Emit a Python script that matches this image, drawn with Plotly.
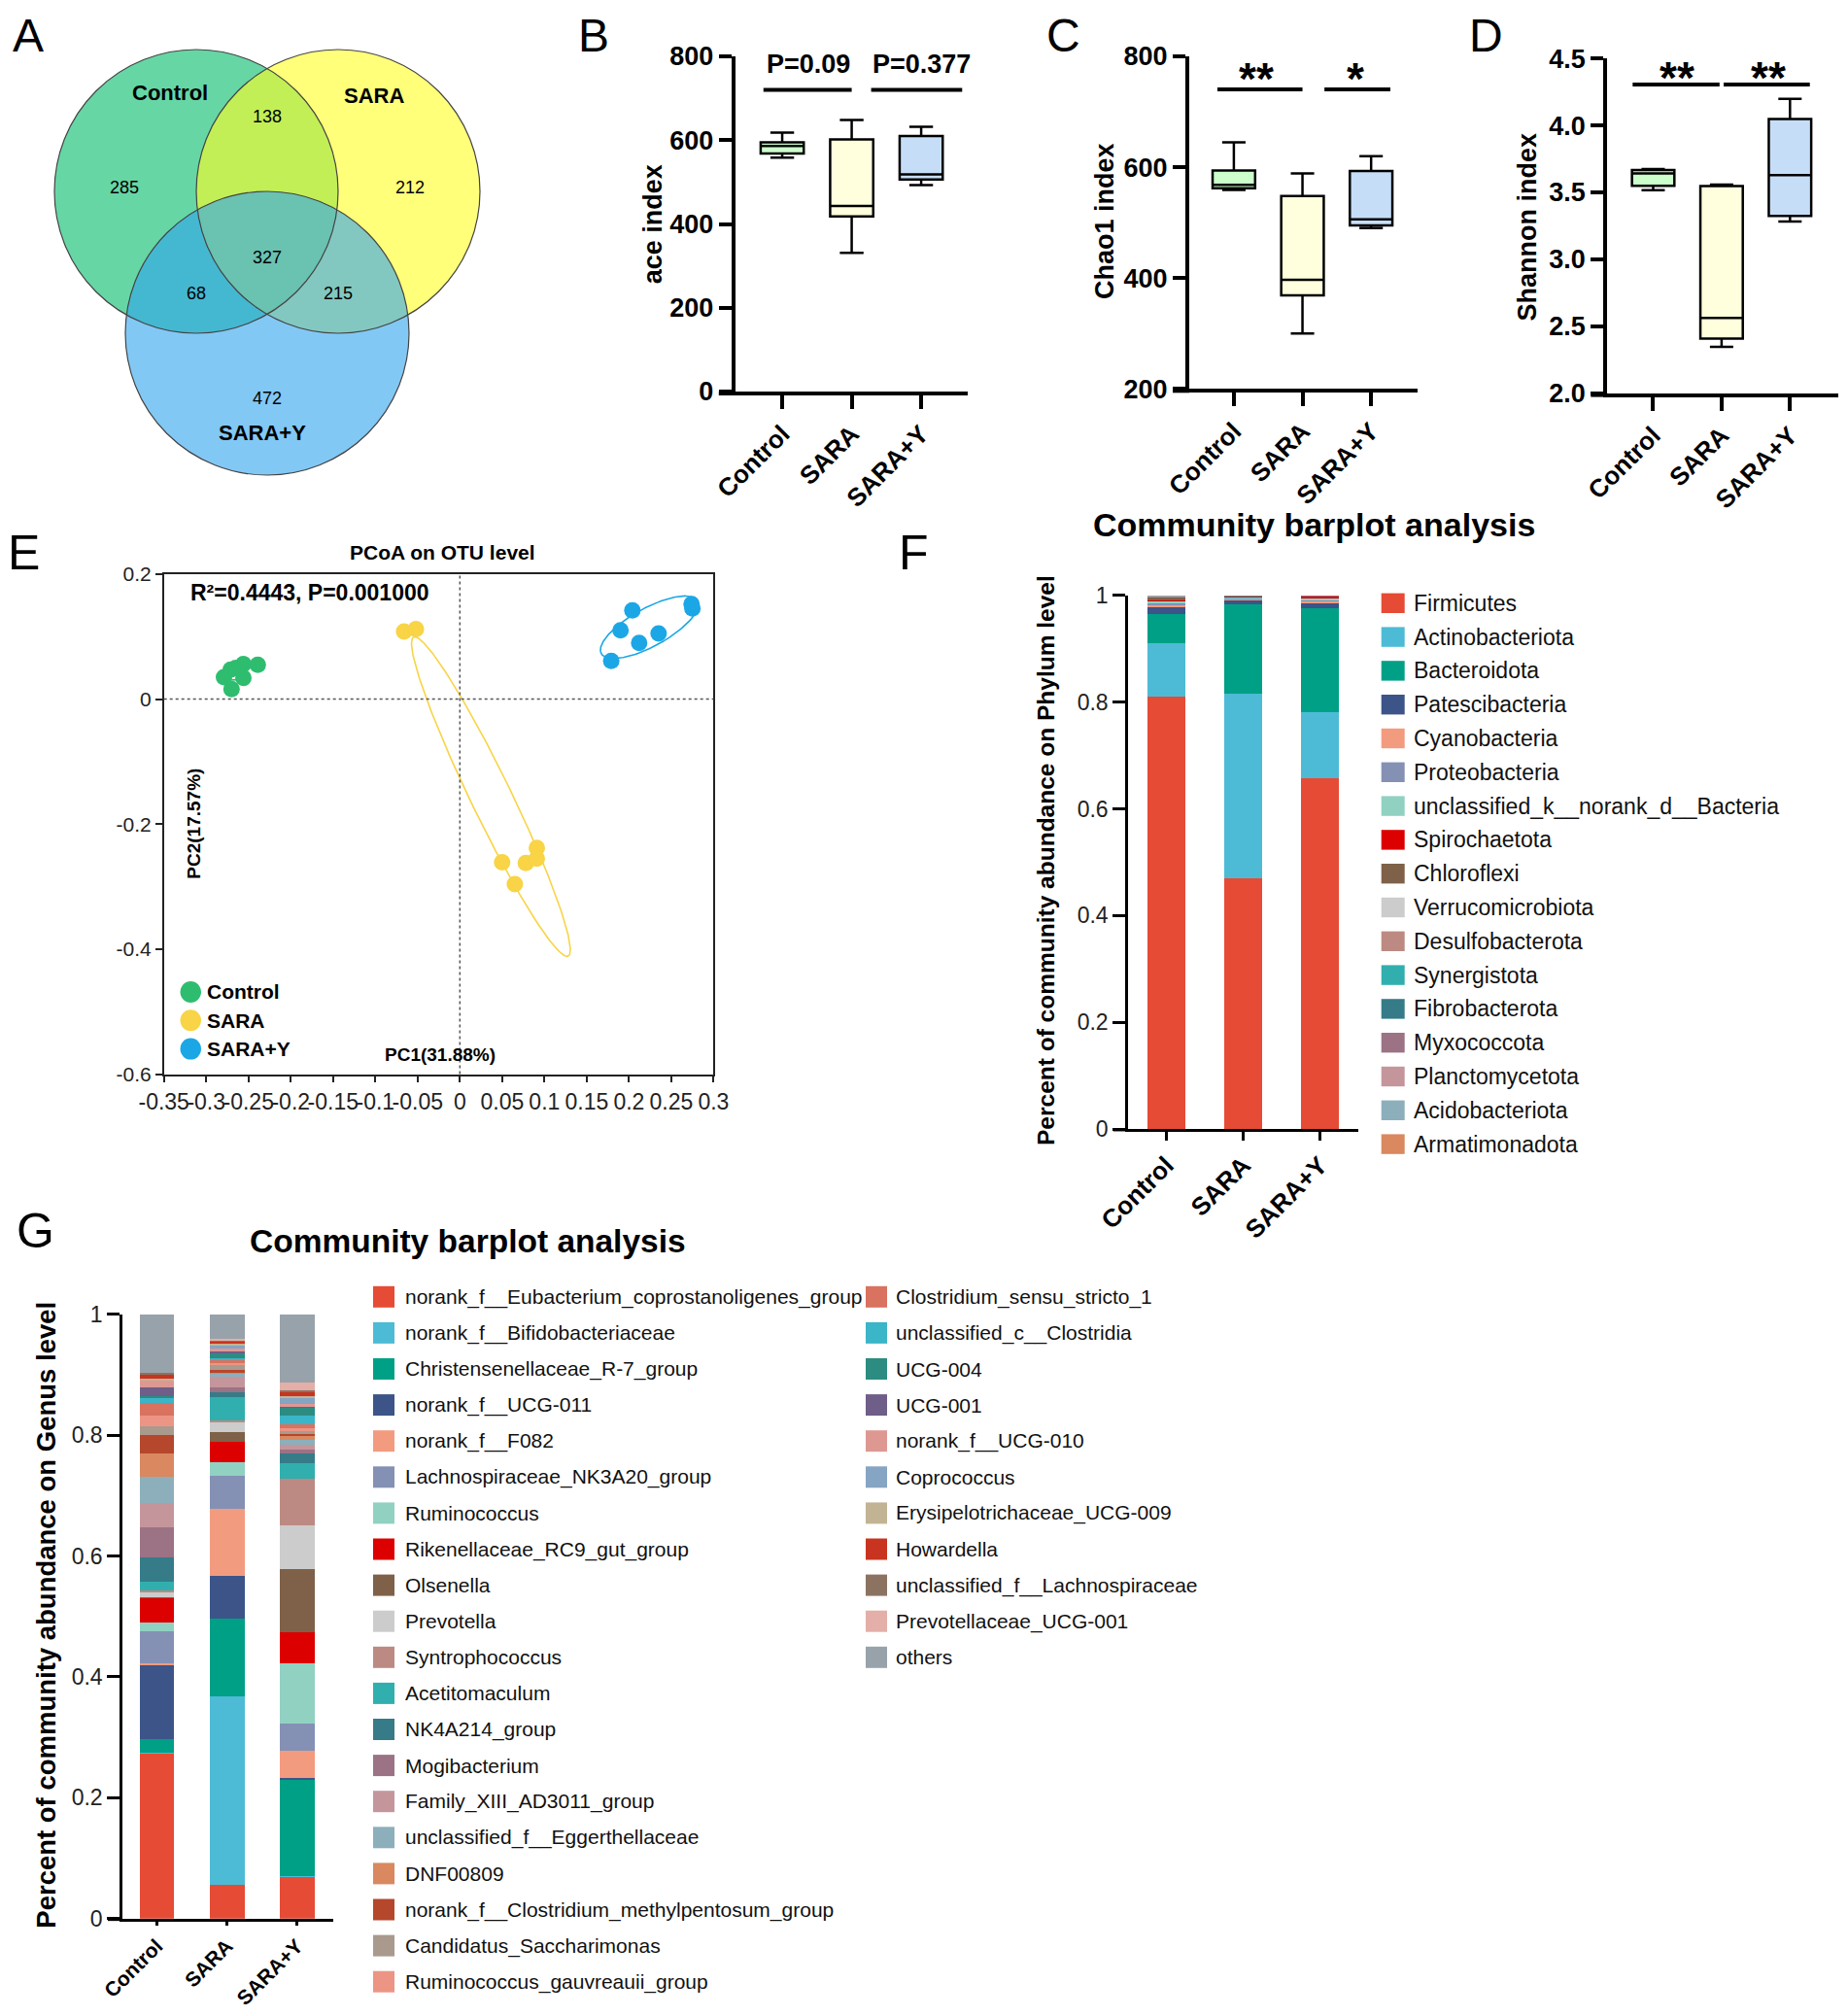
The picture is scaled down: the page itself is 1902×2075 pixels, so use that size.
import numpy as np
import plotly.graph_objects as go

W, H = 1902, 2075          # reference picture size
OFF = 8                    # default page body margin
WF, HF = W - 2 * OFF, H - 2 * OFF   # figure size so that the page fits the window
FONT = "Liberation Sans, Arial, sans-serif"

# ---------------- data ----------------
groups = ["Control", "SARA", "SARA+Y"]

# A: Venn counts
venn_labels = ["Control", "SARA", "SARA+Y"]
venn_only = [285, 212, 472]          # Control only, SARA only, SARA+Y only
venn_ctrl_sara = 138
venn_ctrl_saray = 68
venn_sara_saray = 215
venn_all = 327

# B: ace index
ace_min = [558, 331, 493]
ace_q1 = [568, 418, 506]
ace_med = [586, 443, 518]
ace_q3 = [595, 602, 610]
ace_max = [618, 648, 632]
ace_tests = ["P=0.09", "P=0.377"]

# C: Chao1 index
chao_min = [559, 300, 490]
chao_q1 = [562, 369, 495]
chao_med = [568, 397, 506]
chao_q3 = [594, 548, 593]
chao_max = [645, 589, 620]
chao_tests = ["**", "*"]

# D: Shannon index
sha_min = [3.517, 2.345, 3.282]
sha_q1 = [3.550, 2.407, 3.324]
sha_med = [3.642, 2.562, 3.629]
sha_q3 = [3.667, 3.547, 4.049]
sha_max = [3.674, 3.559, 4.199]
sha_tests = ["**", "**"]

# E: PCoA
pc1_control = [-0.279, -0.271, -0.265, -0.256, -0.239, -0.256, -0.270]
pc2_control = [0.035, 0.047, 0.050, 0.056, 0.055, 0.034, 0.016]
pc1_sara = [-0.066, -0.052, 0.050, 0.065, 0.078, 0.091, 0.091]
pc2_sara = [0.108, 0.112, -0.261, -0.296, -0.262, -0.238, -0.255]
pc1_saray = [0.204, 0.274, 0.275, 0.190, 0.235, 0.212, 0.179]
pc2_saray = [0.142, 0.152, 0.145, 0.110, 0.105, 0.090, 0.061]
e_xticks = [-0.35, -0.3, -0.25, -0.2, -0.15, -0.1, -0.05, 0, 0.05, 0.1, 0.15, 0.2, 0.25, 0.3]
e_xticktext = ["-0.35", "-0.3", "-0.25", "-0.2", "-0.15", "-0.1", "-0.05", "0",
               "0.05", "0.1", "0.15", "0.2", "0.25", "0.3"]
e_yticks = [-0.6, -0.4, -0.2, 0, 0.2]
e_yticktext = ["-0.6", "-0.4", "-0.2", "0", "0.2"]

# F: phylum level
phylum_names = ["Firmicutes", "Actinobacteriota", "Bacteroidota", "Patescibacteria",
                "Cyanobacteria", "Proteobacteria", "unclassified_k__norank_d__Bacteria",
                "Spirochaetota", "Chloroflexi", "Verrucomicrobiota", "Desulfobacterota",
                "Synergistota", "Fibrobacterota", "Myxococcota", "Planctomycetota",
                "Acidobacteriota", "Armatimonadota"]
phylum_control = [0.811, 0.099, 0.0545, 0.013, 0.004, 0.005, 0.0035, 0.0005, 0.0065, 0.001,
                  0.0008, 0.0004, 0.0003, 0.0002, 0.0002, 0.0001, 0.0001]
phylum_sara = [0.469, 0.346, 0.168, 0.007, 0.004, 0.002, 0.002, 0.0003, 0.0003, 0.0005,
               0.0005, 0.0004, 0.0002, 0.0002, 0.0002, 0.0002, 0.0002]
phylum_saray = [0.658, 0.124, 0.1945, 0.009, 0.004, 0.002, 0.002, 0.0055, 0.0003, 0.0002,
                0.0002, 0.0001, 0.0001, 0.0001, 0.0001, 0.0001, 0.0001]

# G: genus level
genus_names = ["norank_f__Eubacterium_coprostanoligenes_group", "norank_f__Bifidobacteriaceae",
               "Christensenellaceae_R-7_group", "norank_f__UCG-011", "norank_f__F082",
               "Lachnospiraceae_NK3A20_group", "Ruminococcus", "Rikenellaceae_RC9_gut_group",
               "Olsenella", "Prevotella", "Syntrophococcus", "Acetitomaculum", "NK4A214_group",
               "Mogibacterium", "Family_XIII_AD3011_group", "unclassified_f__Eggerthellaceae",
               "DNF00809", "norank_f__Clostridium_methylpentosum_group", "Candidatus_Saccharimonas",
               "Ruminococcus_gauvreauii_group", "Clostridium_sensu_stricto_1",
               "unclassified_c__Clostridia", "UCG-004", "UCG-001", "norank_f__UCG-010",
               "Coprococcus", "Erysipelotrichaceae_UCG-009", "Howardella",
               "unclassified_f__Lachnospiraceae", "Prevotellaceae_UCG-001", "others"]
genus_control = [0.274, 0.001, 0.0215, 0.1225, 0.004, 0.053, 0.0145, 0.040, 0.002, 0.008,
                 0.003, 0.0145, 0.040, 0.050, 0.039, 0.044, 0.039, 0.031, 0.013, 0.019,
                 0.020, 0.010, 0.001, 0.015, 0.012, 0.001, 0.001, 0.008, 0.002, 0.000, 0.097]
genus_sara = [0.0556, 0.312, 0.129, 0.070, 0.111, 0.0544, 0.024, 0.0335, 0.0153, 0.018,
              0.001, 0.040, 0.0075, 0.0083, 0.0164, 0.005, 0.004, 0.003, 0.008, 0.004,
              0.006, 0.002, 0.009, 0.002, 0.005, 0.005, 0.004, 0.003, 0.002, 0.002, 0.040]
genus_saray = [0.070, 0.001, 0.1595, 0.002, 0.0455, 0.0455, 0.0995, 0.0516, 0.1034, 0.073,
               0.0775, 0.0245, 0.017, 0.0065, 0.008, 0.008, 0.0075, 0.002, 0.005, 0.004,
               0.0076, 0.0144, 0.013, 0.002, 0.003, 0.0105, 0.0035, 0.0065, 0.0035, 0.0118, 0.1132]

# ---------------- styles ----------------
palette = ["#E64B35", "#4DBBD5", "#00A087", "#3C5488", "#F39B7F", "#8491B4", "#91D1C2",
           "#DC0000", "#7E6148", "#CCCCCC", "#BC8A82", "#30AFAE", "#357B88", "#9C7285",
           "#C4969B", "#8CAFBB", "#D98860", "#B5472C", "#A99A8D", "#EC9585", "#D9725F",
           "#3BB5C8", "#2C8C81", "#6E5E88", "#DE9892", "#86A4C3", "#C2B394", "#C8341F",
           "#8C7361", "#E3AFA8", "#98A2AA"]
box_fill = ["#CCFFCC", "#FFFFDD", "#C6DDF7"]
pcoa_colors = ["#2EBD6E", "#F8D446", "#1BA7E6"]
venn_fill = ["rgb(0,187,105)", "rgb(255,255,33)", "rgb(47,163,238)"]


def px(x):
    return (x - OFF) / WF


def py(y):
    return 1 - (y - OFF) / HF


def dom_x(a, b):
    return [px(a), px(b)]


def dom_y(top, bottom):
    return [py(bottom), py(top)]


fig = go.Figure()
shapes = []
annotations = []


def text(x, y, s, size, bold=False, xanchor="center", yanchor="middle", angle=0, color="black"):
    annotations.append(dict(x=px(x), y=py(y), xref="paper", yref="paper", text=s, showarrow=False,
                            xanchor=xanchor, yanchor=yanchor, textangle=angle,
                            font=dict(family=FONT, size=size, color=color,
                                      weight="bold" if bold else "normal")))


# ---------------- A: Venn ----------------
R = 146
centers = [(202, 197), (348, 197), (275, 343)]
for (cx, cy), col in zip(centers, venn_fill):
    shapes.append(dict(type="circle", xref="x", yref="y", x0=cx - R, x1=cx + R, y0=cy - R, y1=cy + R,
                       fillcolor=col, opacity=0.6, line=dict(width=0)))
for (cx, cy) in centers:
    shapes.append(dict(type="circle", xref="x", yref="y", x0=cx - R, x1=cx + R, y0=cy - R, y1=cy + R,
                       fillcolor="rgba(0,0,0,0)", line=dict(color="#444", width=1.2)))
c0, c1, c2 = centers
venn_annots = [
    (c0[0] - 27, c0[1] - 102, venn_labels[0], 22, True),
    (c1[0] + 37, c1[1] - 99, venn_labels[1], 22, True),
    (c2[0] - 5, c2[1] + 102, venn_labels[2], 22, True),
    (c0[0] - 74, c0[1] - 4, str(venn_only[0]), 18, False),
    (c1[0] + 74, c1[1] - 4, str(venn_only[1]), 18, False),
    (c2[0], c2[1] + 67, str(venn_only[2]), 18, False),
    ((c0[0] + c1[0]) / 2, c0[1] - 77, str(venn_ctrl_sara), 18, False),
    (c0[0], c2[1] - 41, str(venn_ctrl_saray), 18, False),
    (c1[0], c2[1] - 41, str(venn_sara_saray), 18, False),
    (c2[0], c2[1] - 78, str(venn_all), 18, False),
]
for x, y, s, size, b in venn_annots:
    annotations.append(dict(x=x, y=y, xref="x", yref="y", text=s, showarrow=False,
                            font=dict(family=FONT, size=size, color="black",
                                      weight="bold" if b else "normal")))

# ---------------- B, C, D: boxplots ----------------
box_panels = [
    ("x2", "y2", ace_min, ace_q1, ace_med, ace_q3, ace_max),
    ("x3", "y3", chao_min, chao_q1, chao_med, chao_q3, chao_max),
    ("x4", "y4", sha_min, sha_q1, sha_med, sha_q3, sha_max),
]
for xa, ya, mn, q1, md, q3, mx in box_panels:
    for i, g in enumerate(groups):
        fig.add_trace(go.Box(x=[g], q1=[q1[i]], median=[md[i]], q3=[q3[i]],
                             lowerfence=[mn[i]], upperfence=[mx[i]],
                             fillcolor=box_fill[i], line=dict(color="black", width=2.5),
                             width=0.62, whiskerwidth=0.55, boxpoints=False,
                             xaxis=xa, yaxis=ya, showlegend=False, hoverinfo="skip"))

# significance brackets
sig_specs = [
    ("x2", "y2", 720, [(-0.27, 1.0), (1.28, 2.59)], ace_tests, 781, [0.37, 2.0], 27),
    ("x3", "y3", 740.6, [(-0.24, 1.0), (1.32, 2.28)], chao_tests, 760, [0.33, 1.77], 46),
    ("x4", "y4", 4.306, [(-0.30, 0.97), (1.03, 2.29)], sha_tests, 4.355, [0.35, 1.68], 46),
]
for xa, ya, yl, segs, labels, yt, xts, fs in sig_specs:
    for (a, b) in segs:
        shapes.append(dict(type="line", xref=xa, yref=ya, x0=a, x1=b, y0=yl, y1=yl,
                           line=dict(color="black", width=4)))
    for lab, xt in zip(labels, xts):
        annotations.append(dict(x=xt, y=yt, xref=xa, yref=ya, text=lab, showarrow=False,
                                font=dict(family=FONT, size=fs, color="black", weight="bold")))

# ---------------- E: PCoA ----------------
def conf_ellipse(xs, ys, k, n=200):
    x = np.asarray(xs)
    y = np.asarray(ys)
    vals, vecs = np.linalg.eigh(np.cov(x, y))
    t = np.linspace(0, 2 * np.pi, n)
    circ = np.vstack([np.cos(t), np.sin(t)])
    pts = vecs @ (np.sqrt(vals)[:, None] * k * circ)
    return x.mean() + pts[0], y.mean() + pts[1]


pcoa_sets = [(pc1_control, pc2_control, 0.8), (pc1_sara, pc2_sara, 1.4), (pc1_saray, pc2_saray, 1.5)]
for (xs, ys, k), col, name in zip(pcoa_sets, pcoa_colors, groups):
    ex, ey = conf_ellipse(xs, ys, k)
    fig.add_trace(go.Scatter(x=ex, y=ey, mode="lines", line=dict(color=col, width=1.6),
                             xaxis="x5", yaxis="y5", showlegend=False, hoverinfo="skip"))
    fig.add_trace(go.Scatter(x=xs, y=ys, mode="markers", marker=dict(color=col, size=17),
                             xaxis="x5", yaxis="y5", showlegend=False, name=name))
shapes.append(dict(type="line", xref="x5", yref="y5 domain", x0=0, x1=0, y0=0, y1=1,
                   line=dict(color="#555", width=1.5, dash="dot")))
shapes.append(dict(type="line", xref="x5 domain", yref="y5", x0=0, x1=1, y0=0, y1=0,
                   line=dict(color="#555", width=1.5, dash="dot")))

# ---------------- F: phylum bars ----------------
for i, name in enumerate(phylum_names):
    fig.add_trace(go.Bar(x=groups, y=[phylum_control[i], phylum_sara[i], phylum_saray[i]],
                         marker=dict(color=palette[i], line=dict(width=0)), width=0.49,
                         xaxis="x6", yaxis="y6", showlegend=False, name=name))

# ---------------- G: genus bars ----------------
for i, name in enumerate(genus_names):
    fig.add_trace(go.Bar(x=groups, y=[genus_control[i], genus_sara[i], genus_saray[i]],
                         marker=dict(color=palette[i], line=dict(width=0)), width=0.495,
                         xaxis="x7", yaxis="y7", showlegend=False, name=name))

# ---------------- axes ----------------
def axis_common(**kw):
    d = dict(showgrid=False, zeroline=False, automargin=False, showline=True, linecolor="black",
             ticks="outside", tickcolor="black")
    d.update(kw)
    return d


bold27 = dict(family=FONT, size=27, color="black", weight="bold")
cat_font = dict(family=FONT, size=26, color="black", weight="bold")
layout_axes = {}
layout_axes["xaxis"] = dict(domain=dom_x(OFF, 520), range=[OFF, 520], visible=False, anchor="y")
layout_axes["yaxis"] = dict(domain=dom_y(OFF, 520), range=[520, OFF], visible=False, anchor="x")

box_geom = [
    ("2", (756.8, 996.0), (58, 403), [-0.675, 2.67], [0, 800], [0, 200, 400, 600, 800], None),
    ("3", (1224.0, 1458.5), (58, 400.3), [-0.65, 2.67], [200, 800], [200, 400, 600, 800], None),
    ("4", (1654.3, 1891.6), (60.3, 404.6), [-0.67, 2.70], [2.0, 4.5], [2.0, 2.5, 3.0, 3.5, 4.0, 4.5],
     ".1f"),
]
for n, (xl, xr), (yt, yb), xr_, yr_, yt_, fmt in box_geom:
    layout_axes["xaxis" + n] = axis_common(domain=dom_x(xl, xr), anchor="y" + n, type="category",
                                           categoryorder="array", categoryarray=groups, range=xr_,
                                           linewidth=4, ticklen=14, tickwidth=4, tickangle=-45,
                                           tickfont=cat_font)
    ya = axis_common(domain=dom_y(yt, yb), anchor="x" + n, range=yr_, tickvals=yt_, linewidth=4,
                     ticklen=13, tickwidth=4, tickfont=bold27)
    if fmt:
        ya["tickformat"] = fmt
    layout_axes["yaxis" + n] = ya
    # x axis line extension to the left (Prism style)
    shapes.append(dict(type="line", xref="paper", yref="paper", x0=px(xl - 17), x1=px(xl),
                       y0=py(yb + 2), y1=py(yb + 2), line=dict(color="black", width=4)))

layout_axes["xaxis5"] = axis_common(domain=dom_x(168.7, 734.4), anchor="y5", range=[-0.35, 0.3],
                                    tickvals=e_xticks, ticktext=e_xticktext, mirror=True,
                                    linewidth=1.5, linecolor="#222", ticklen=7, tickwidth=1.5,
                                    tickcolor="#222", tickangle=0,
                                    tickfont=dict(family=FONT, size=23, color="#222"))
layout_axes["yaxis5"] = axis_common(domain=dom_y(590.9, 1105.6), anchor="x5", range=[-0.6, 0.2],
                                    tickvals=e_yticks, ticktext=e_yticktext, mirror=True,
                                    linewidth=1.5, linecolor="#222", ticklen=7, tickwidth=1.5,
                                    tickcolor="#222",
                                    tickfont=dict(family=FONT, size=21, color="#222"))

bar_geom = [
    ("6", (1161, 1398), (612.8, 1162), [-0.5, 2.5], 23, 26, 9),
    ("7", (126, 342.7), (1352.8, 1974.7), [-0.49, 2.51], 23, 21, 5),
]
for n, (xl, xr), (yt, yb), xr_, yfs, xfs, tl in bar_geom:
    layout_axes["xaxis" + n] = axis_common(domain=dom_x(xl, xr), anchor="y" + n, type="category",
                                           categoryorder="array", categoryarray=groups, range=xr_,
                                           linewidth=2.5, ticklen=tl, tickwidth=2.5, tickangle=-45,
                                           tickfont=dict(family=FONT, size=xfs, color="black",
                                                         weight="bold"))
    layout_axes["yaxis" + n] = axis_common(domain=dom_y(yt, yb), anchor="x" + n, range=[0, 1],
                                           tickvals=[0, 0.2, 0.4, 0.6, 0.8, 1],
                                           ticktext=["0", "0.2", "0.4", "0.6", "0.8", "1"],
                                           linewidth=2.5, ticklen=13, tickwidth=2.5,
                                           tickfont=dict(family=FONT, size=yfs, color="#222"))
    shapes.append(dict(type="line", xref="paper", yref="paper", x0=px(xl - 15), x1=px(xl),
                       y0=py(yb + 1.2), y1=py(yb + 1.2), line=dict(color="black", width=2.5)))

# ---------------- texts ----------------
for letter, x in [("A", 29), ("B", 611), ("C", 1094), ("D", 1529)]:
    text(x, OFF + 0.5, letter, 48, yanchor="top")
for letter, x, y in [("E", 24, 569), ("F", 940, 569), ("G", 36, 1267)]:
    text(x, y, letter, 50)

text(671.8, 230.5, "ace index", 27, True, angle=-90)
text(1137, 228, "Chao1 index", 27, True, angle=-90)
text(1571.5, 234, "Shannon index", 27, True, angle=-90)

# E texts and legend
text(455.6, 568.7, "PCoA on OTU level", 21, True)
text(193.9, 610, "R²=0.4443, P=0.001000", 23, True, xanchor="left")
text(453.2, 1085.3, "PC1(31.88%)", 19, True)
text(198.7, 848, "PC2(17.57%)", 19, True, angle=-90)
for i, (g, col) in enumerate(zip(groups, pcoa_colors)):
    yy = 1021 + i * 29.3
    shapes.append(dict(type="circle", xref="paper", yref="paper", x0=px(185.5), x1=px(207),
                       y0=py(yy + 11), y1=py(yy - 11), fillcolor=col, line=dict(width=0)))
    text(210.9, yy, g, 21, True, xanchor="left")

# F texts and legend
text(1352, 540, "Community barplot analysis", 34, True)
text(1077, 886, "Percent of community abundance on Phylum level", 24.5, True, angle=-90)
for i, (name, col) in enumerate(zip(phylum_names, palette)):
    yy = 620.8 + i * 34.8
    shapes.append(dict(type="rect", xref="paper", yref="paper", x0=px(1421.7), x1=px(1445.7),
                       y0=py(yy + 10.2), y1=py(yy - 10.2), fillcolor=col, line=dict(width=0)))
    text(1452.7, yy, name, 23, xanchor="left", color="#111")

# G texts and legend
text(481, 1277, "Community barplot analysis", 33.5, True)
text(46.7, 1662, "Percent of community abundance on Genus level", 27.5, True, angle=-90)
for i, (name, col) in enumerate(zip(genus_names, palette)):
    c, r = (0, i) if i < 20 else (1, i - 20)
    sx, tx = [(384, 414.8), (891, 920)][c]
    yy = 1334.8 + r * 37.1
    shapes.append(dict(type="rect", xref="paper", yref="paper", x0=px(sx), x1=px(sx + 22),
                       y0=py(yy + 11), y1=py(yy - 11), fillcolor=col, line=dict(width=0)))
    text(tx, yy, name, 21, xanchor="left", color="#111")

fig.update_layout(
    width=WF, height=HF, autosize=False, template="none",
    margin=dict(l=0, r=0, t=0, b=0, pad=0),
    paper_bgcolor="white", plot_bgcolor="rgba(0,0,0,0)",
    barmode="stack", showlegend=False,
    font=dict(family=FONT, color="black"),
    shapes=shapes, annotations=annotations,
    **layout_axes,
)

fig.write_html("out.html")
